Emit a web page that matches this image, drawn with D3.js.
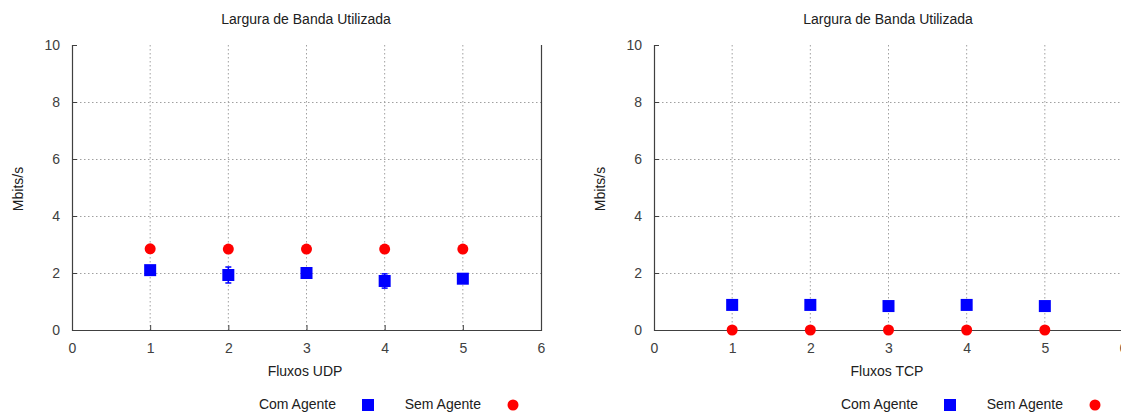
<!DOCTYPE html>
<html><head><meta charset="utf-8">
<script src="https://cdn.jsdelivr.net/npm/d3@7"></script>
<style>body{margin:0;background:#fff}svg{display:block;font-family:"Liberation Sans",Arial,sans-serif}</style>
</head><body><svg id="c" width="1121" height="412"></svg>
<script>
const xTicks = [0,1,2,3,4,5,6];
const yTicks = [0,2,4,6,8,10];
const fluxos = [1,2,3,4,5];
const udpCom = [2.1, 1.93, 2.0, 1.72, 1.8];
const udpComErr = [0.08, 0.28, 0.08, 0.25, 0.04];
const udpSem = [2.85, 2.84, 2.84, 2.84, 2.84];
const tcpCom = [0.88, 0.88, 0.84, 0.88, 0.84];
const tcpComErr = [0.03, 0.03, 0.03, 0.03, 0.03];
const tcpSem = [0.0, 0.0, 0.0, 0.0, 0.0];
const title = "Largura de Banda Utilizada";
const yLabel = "Mbits/s";
const legendNames = ["Com Agente", "Sem Agente"];

const FS = 14;
const svg = d3.select("#c");
function panel(ox, xlabel, com, comErr, sem) {
  const g = svg.append("g");
  const x = d3.scaleLinear().domain([0,6]).range([ox, ox+469]);
  const y = d3.scaleLinear().domain([0,10]).range([330, 45]);
  const grid = "#a0a0a0";
  g.selectAll(".gx").data(xTicks.slice(1,-1)).join("line")
    .attr("x1", d=>x(d)).attr("x2", d=>x(d)).attr("y1", 45).attr("y2", 330)
    .attr("stroke", grid).attr("stroke-dasharray","1.5,2.5").attr("stroke-width",1);
  g.selectAll(".gy").data(yTicks.slice(1,-1)).join("line")
    .attr("y1", d=>y(d)+0.5).attr("y2", d=>y(d)+0.5).attr("x1", ox).attr("x2", ox+469)
    .attr("stroke", grid).attr("stroke-dasharray","1.5,2.5").attr("stroke-width",1);
  const ax = g.append("g").attr("transform","translate(0,330)")
    .call(d3.axisBottom(x).tickValues(xTicks).tickFormat(d3.format("d")).tickSize(-5).tickPadding(11));
  const ay = g.append("g").attr("transform",`translate(${ox},0)`)
    .call(d3.axisLeft(y).tickValues(yTicks).tickFormat(d3.format("d")).tickSize(-5).tickPadding(12));
  [ax, ay].forEach(a => {
    a.select(".domain").remove();
    a.selectAll("line").attr("stroke","#404040");
    a.selectAll("text").attr("font-size",FS).attr("fill","#404040").attr("font-family","Liberation Sans, Arial, sans-serif");
  });
  ax.selectAll("text").attr("dy","0.85em");
  g.append("path").attr("d", `M${ox+0.5},45 V330.5 H${ox+469.5} V45`)
    .attr("fill","none").attr("stroke","#404040").attr("stroke-width",1.2);
  fluxos.forEach((f,i) => {
    const cx = x(f), y1 = y(com[i]+comErr[i]), y2 = y(com[i]-comErr[i]);
    g.append("line").attr("x1",cx).attr("x2",cx).attr("y1",y1).attr("y2",y2).attr("stroke","#0000ff").attr("stroke-width",1.5);
    g.append("line").attr("x1",cx-3).attr("x2",cx+3).attr("y1",y1).attr("y2",y1).attr("stroke","#0000ff").attr("stroke-width",1.5);
    g.append("line").attr("x1",cx-3).attr("x2",cx+3).attr("y1",y2).attr("y2",y2).attr("stroke","#0000ff").attr("stroke-width",1.5);
  });
  g.selectAll(".sq").data(fluxos).join("rect")
    .attr("x", d=>x(d)-6).attr("y",(d,i)=>y(com[i])-6).attr("width",12).attr("height",12).attr("fill","#0000ff");
  g.selectAll(".ci").data(fluxos).join("circle")
    .attr("cx", d=>x(d)).attr("cy",(d,i)=>y(sem[i])).attr("r",5.5).attr("fill","#ff0000");
  const txt = (tx,ty,s,anchor) => g.append("text").attr("x",tx).attr("y",ty).attr("text-anchor",anchor||"middle")
    .attr("font-size",FS).attr("fill","#202020").text(s);
  txt(ox+234, 24, title);
  txt(ox+233, 376, xlabel);
  g.append("text").attr("transform",`translate(${ox-49},189) rotate(-90)`).attr("text-anchor","middle")
    .attr("font-size",FS).attr("fill","#202020").text(yLabel);
  txt(ox+264, 409, legendNames[0], "end");
  g.append("rect").attr("x",ox+290).attr("y",399).attr("width",12).attr("height",12).attr("fill","#0000ff");
  txt(ox+409, 409, legendNames[1], "end");
  g.append("circle").attr("cx",ox+441).attr("cy",405).attr("r",5.5).attr("fill","#ff0000");
}
panel(72, "Fluxos UDP", udpCom, udpComErr, udpSem);
panel(654, "Fluxos TCP", tcpCom, tcpComErr, tcpSem);
</script></body></html>
